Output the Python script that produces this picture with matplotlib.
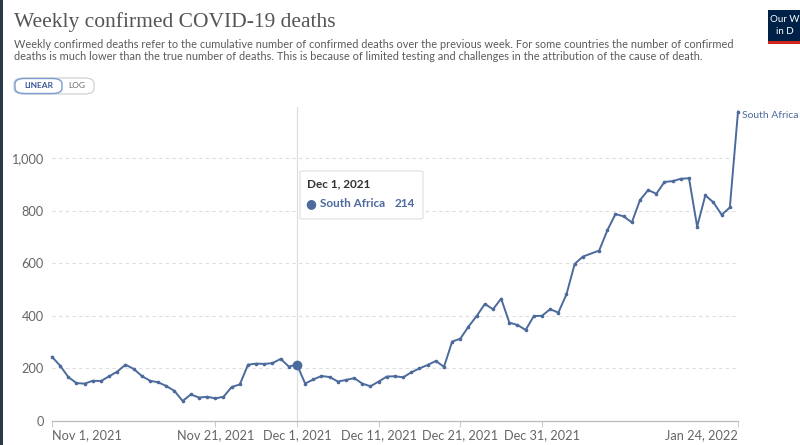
import matplotlib
matplotlib.use("Agg")
import matplotlib.pyplot as plt
from matplotlib.patches import FancyBboxPatch, Rectangle
import pandas as pd

# data (South Africa, weekly confirmed deaths, daily points)
# day offsets from Nov 1, 2021 -- Jan 6, 2022 (offset 66) has no point in the chart
day_offsets = [d for d in range(85) if d != 66]
deaths = [244, 210, 167, 144, 142, 153, 152, 170, 188, 214,
          198, 171, 153, 147, 133, 114, 76, 101, 89, 92,
          86, 92, 129, 139, 214, 218, 217, 220, 236, 207,
          214, 142, 158, 171, 167, 150, 156, 163, 142, 132,
          150, 169, 170, 166, 185, 200, 213, 228, 206, 302,
          313, 359, 399, 445, 425, 465, 374, 365, 346, 399,
          400, 425, 412, 482, 597, 625, 648, 725, 787, 778,
          755, 840, 878, 864, 909, 912, 921, 923, 739, 858,
          831, 784, 812, 1176]
country = "South Africa"
hover_date = "2021-12-01"
tick_dates = ["2021-11-01", "2021-11-21", "2021-12-01", "2021-12-11",
              "2021-12-21", "2021-12-31", "2022-01-24"]
tick_labels = ["Nov 1, 2021", "Nov 21, 2021", "Dec 1, 2021", "Dec 11, 2021",
               "Dec 21, 2021", "Dec 31, 2021", "Jan 24, 2022"]
y_ticks = [0, 200, 400, 600, 800, 1000]

dates = pd.Timestamp("2021-11-01") + pd.to_timedelta(day_offsets, unit="D")
series = pd.Series(deaths, index=dates)

line_color = "#4c6a9c"
text_gray = "#666666"

plt.rcParams["font.family"] = ["Lato", "DejaVu Sans"]

fig = plt.figure(figsize=(8, 4.45), dpi=100)
ax = fig.add_axes([0.065, 0.054, 0.8575, 0.7056])

ax.plot(series.index, series.values, color=line_color, lw=1.4,
        marker="o", ms=1.6, zorder=3, clip_on=False)

# hovered point + crosshair
hd = pd.Timestamp(hover_date)
ax.axvline(hd, color="#dddddd", lw=0.9, zorder=1)
ax.plot([hd], [series[hd]], "o", color=line_color, ms=6, zorder=4)

ax.set_xlim(dates[0], dates[-1])
ax.set_ylim(0, 1194)
ax.set_yticks(y_ticks)
ax.set_yticklabels([f"{v:,}" for v in y_ticks])
ax.yaxis.grid(True, color="#dddddd", ls=(0, (3, 3)), lw=0.8)
ax.set_axisbelow(True)

ax.set_xticks(pd.to_datetime(tick_dates))
ax.set_xticklabels(tick_labels)
for i, lab in enumerate(ax.get_xticklabels()):
    if i == 0:
        lab.set_ha("left")
    elif i == len(tick_labels) - 1:
        lab.set_ha("right")
    else:
        lab.set_ha("center")

ax.tick_params(axis="x", colors="#cccccd", length=4, width=0.8, pad=2,
               labelcolor=text_gray, labelsize=9.2)
ax.tick_params(axis="y", length=0, pad=6, labelcolor=text_gray, labelsize=9.2)
for s in ["top", "right", "left"]:
    ax.spines[s].set_visible(False)
ax.spines["bottom"].set_color("#bbbbbb")
ax.spines["bottom"].set_linewidth(0.9)

# line end label
ax.annotate(country, (dates[-1], deaths[-1]), xytext=(3, -3),
            textcoords="offset points", color=line_color, fontsize=7.5,
            va="center", ha="left", annotation_clip=False)

# tooltip
tip = FancyBboxPatch((300 / 800, 1 - 219 / 445), 123 / 800, 48 / 445,
                     boxstyle="round,pad=0,rounding_size=0.003",
                     transform=fig.transFigure, facecolor="white",
                     edgecolor="#dddddd", lw=0.8, zorder=10)
fig.patches.append(tip)
fig.text(307 / 800, 1 - 184 / 445, "Dec 1, 2021", fontsize=8.5,
         fontweight="bold", color="#333333", va="center", zorder=11)
fig.text(311 / 800, 1 - 204 / 445, "\u25CF", family="DejaVu Sans", fontsize=9,
         color=line_color, va="center", ha="center", zorder=11)
fig.text(320 / 800, 1 - 204 / 445, country, fontsize=8.5, fontweight="bold",
         color=line_color, va="center", zorder=11)
fig.text(415 / 800, 1 - 204 / 445, str(series[hd]), fontsize=8.5,
         fontweight="bold", color=line_color, va="center", ha="right", zorder=11)

# header
fig.text(14 / 800, 1 - 22 / 445, "Weekly confirmed COVID-19 deaths",
         family="Liberation Serif", fontsize=15.5, color="#555555", va="center")
fig.text(14 / 800, 1 - 45 / 445,
         "Weekly confirmed deaths refer to the cumulative number of confirmed deaths over the previous week. For some countries the number of confirmed",
         fontsize=7.95, color="#5b5b5b", va="center")
fig.text(14 / 800, 1 - 57 / 445,
         "deaths is much lower than the true number of deaths. This is because of limited testing and challenges in the attribution of the cause of death.",
         fontsize=7.95, color="#5b5b5b", va="center")

# LINEAR / LOG toggle
fig.patches.append(FancyBboxPatch((14 / 800, 1 - 94 / 445), 80 / 800, 16 / 445,
                                  boxstyle="round,pad=0,rounding_size=0.012",
                                  transform=fig.transFigure, facecolor="white",
                                  edgecolor="#cccccc", lw=0.8))
fig.patches.append(FancyBboxPatch((15 / 800, 1 - 93.5 / 445), 47 / 800, 15 / 445,
                                  boxstyle="round,pad=0,rounding_size=0.012",
                                  transform=fig.transFigure, facecolor="white",
                                  edgecolor="#7a9cd1", lw=1.0))
fig.text(38.5 / 800, 1 - 86 / 445, "LINEAR", fontsize=6, fontweight="bold",
         color="#3b5998", ha="center", va="center")
fig.text(77 / 800, 1 - 86 / 445, "LOG", fontsize=6, color="#666666",
         ha="center", va="center")

# logo corner
fig.patches.append(Rectangle((768 / 800, 1 - 42 / 445), 32 / 800, 32 / 445,
                             transform=fig.transFigure, facecolor="#002147"))
fig.patches.append(Rectangle((768 / 800, 1 - 44 / 445), 32 / 800, 3 / 445,
                             transform=fig.transFigure, facecolor="#ce261e"))
fig.text(770 / 800, 1 - 19 / 445, "Our W", fontsize=7, color="white", va="center")
fig.text(776 / 800, 1 - 31 / 445, "in D", fontsize=7, color="white", va="center")

# dark frame edge on the left
fig.patches.append(Rectangle((0, 0), 3 / 800, 1, transform=fig.transFigure,
                             facecolor="#2b3a4a"))

fig.savefig("out.png", dpi=100)
